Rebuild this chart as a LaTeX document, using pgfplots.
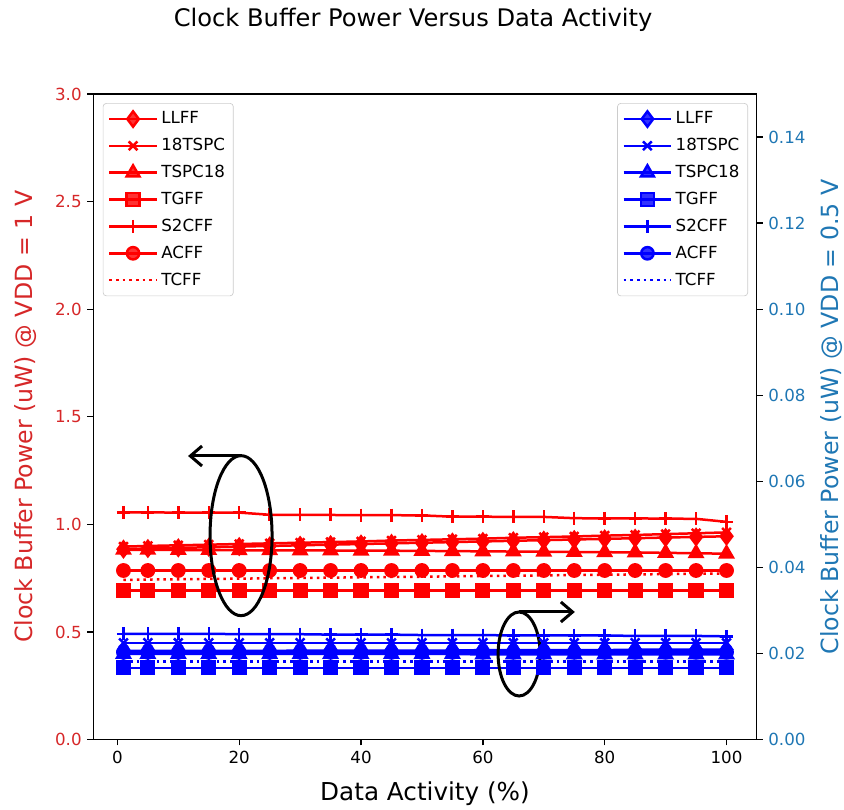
\documentclass[border=0pt]{standalone}
\usepackage{fontspec}
\setmainfont{DejaVu Sans}
\usepackage{pgfplots}
\pgfplotsset{compat=1.18}
\usetikzlibrary{arrows.meta}
\definecolor{tabred}{HTML}{D62728}
\definecolor{tabblue}{HTML}{1F77B4}
\definecolor{pr}{rgb}{1,0,0}
\definecolor{pb}{rgb}{0,0,1}

\pgfplotsset{
  common/.style={
    scale only axis, width=398pt, height=387.4pt,
    at={(0,0)}, anchor=south west,
    xmin=-3.95, xmax=104.95,
    tick align=outside, major tick length=3.5pt,
    tick style={black, line width=0.8pt},
    axis line style={line width=0.8pt},
    /pgf/number format/assume math mode=true,
    ticklabel style={font=\fontsize{10}{12}\selectfont},
    label style={font=\fontsize{14.2}{17}\selectfont},
    every axis plot/.append style={line width=1.5pt},
    legend style={font=\fontsize{10}{12}\selectfont, draw=black!20, rounded corners=2pt,
      fill=white, fill opacity=0.8, text opacity=1, inner sep=3pt, row sep=3.2pt},
    legend cell align=left,
    legend image code/.code={\draw[mark repeat=2,mark phase=2] plot coordinates {(0cm,0cm) (0.5cm,0cm) (1.0cm,0cm)};},
  },
  sD/.style={mark=diamond*, mark size=4.6pt},
  sX/.style={mark=x, mark size=3.7pt},
  sT/.style={mark=triangle*, mark size=4.4pt},
  sS/.style={mark=square*, mark size=3.8pt},
  sP/.style={mark=+, mark size=3.9pt},
  sO/.style={mark=*, mark size=3.7pt},
  sDot/.style={no marks, dash pattern=on 1.5pt off 2.5pt},
}

\begin{document}
\begin{tikzpicture}
\useasboundingbox (-56pt,-42.2pt) rectangle (450.4pt,443.8pt);
\begin{axis}[common,
  ymin=0, ymax=3, ytick={0,0.5,1,1.5,2,2.5,3}, ytick pos=left,
  xtick={0,20,40,60,80,100}, xtick pos=bottom,
  yticklabel style={text=tabred, /pgf/number format/.cd, fixed, fixed zerofill, precision=1},
  ylabel={Clock Buffer Power (uW) @ VDD = 1 V},
  ylabel style={text=tabred, at={(axis description cs:-0.1025,0.5)}, anchor=center},
  xlabel={Data Activity (\%)},
  xlabel style={at={(axis description cs:0.5,-0.084)}, anchor=center, font=\fontsize{14.8}{17}\selectfont},
  every axis title shift=0pt,
  title={Clock Buffer Power Versus Data Activity},
  title style={at={(axis description cs:0.482,1.1146)}, anchor=center, font=\fontsize{14.5}{17}\selectfont},
  legend style={at={(axis description cs:0.0142,0.986)}, anchor=north west},
]
\addplot[pr, sD] coordinates {(1,0.885)(5,0.888)(10,0.891)(15,0.894)(20,0.897)(25,0.900)(30,0.903)(35,0.906)(40,0.909)(45,0.912)(50,0.915)(55,0.918)(60,0.921)(65,0.924)(70,0.927)(75,0.930)(80,0.933)(85,0.936)(90,0.939)(95,0.942)(100,0.945)};
\addlegendentry{LLFF}
\addplot[pr, sX] coordinates {(1,0.897)(5,0.900)(10,0.903)(15,0.906)(20,0.909)(25,0.912)(30,0.915)(35,0.918)(40,0.921)(45,0.925)(50,0.928)(55,0.931)(60,0.934)(65,0.938)(70,0.941)(75,0.944)(80,0.948)(85,0.951)(90,0.955)(95,0.959)(100,0.963)};
\addlegendentry{18TSPC}
\addplot[pr, sT] coordinates {(1,0.882)(5,0.882)(10,0.881)(15,0.881)(20,0.880)(25,0.880)(30,0.879)(35,0.879)(40,0.878)(45,0.878)(50,0.877)(55,0.876)(60,0.875)(65,0.874)(70,0.873)(75,0.872)(80,0.871)(85,0.870)(90,0.868)(95,0.866)(100,0.864)};
\addlegendentry{TSPC18}
\addplot[pr, sS] coordinates {(1,0.692)(5,0.692)(10,0.692)(15,0.692)(20,0.692)(25,0.692)(30,0.692)(35,0.692)(40,0.692)(45,0.692)(50,0.692)(55,0.692)(60,0.692)(65,0.692)(70,0.692)(75,0.692)(80,0.692)(85,0.692)(90,0.692)(95,0.692)(100,0.692)};
\addlegendentry{TGFF}
\addplot[pr, sP] coordinates {(1,1.056)(5,1.056)(10,1.055)(15,1.055)(20,1.055)(25,1.045)(30,1.044)(35,1.044)(40,1.043)(45,1.043)(50,1.042)(55,1.036)(60,1.036)(65,1.035)(70,1.035)(75,1.029)(80,1.028)(85,1.028)(90,1.027)(95,1.026)(100,1.012)};
\addlegendentry{S2CFF}
\addplot[pr, sO] coordinates {(1,0.786)(5,0.786)(10,0.786)(15,0.786)(20,0.786)(25,0.786)(30,0.786)(35,0.786)(40,0.786)(45,0.786)(50,0.786)(55,0.786)(60,0.786)(65,0.786)(70,0.786)(75,0.786)(80,0.786)(85,0.786)(90,0.786)(95,0.786)(100,0.786)};
\addlegendentry{ACFF}
\addplot[pr, sDot] coordinates {(1,0.742)(5,0.744)(10,0.745)(15,0.747)(20,0.748)(25,0.750)(30,0.751)(35,0.753)(40,0.754)(45,0.756)(50,0.757)(55,0.759)(60,0.760)(65,0.762)(70,0.763)(75,0.765)(80,0.766)(85,0.768)(90,0.769)(95,0.771)(100,0.772)};
\addlegendentry{TCFF}
\end{axis}

\begin{axis}[common,
  ymin=0, ymax=0.15, ytick={0,0.02,0.04,0.06,0.08,0.1,0.12,0.14},
  axis y line*=right, axis x line=none,
  yticklabel style={text=tabblue, /pgf/number format/.cd, fixed, fixed zerofill, precision=2},
  ylabel={Clock Buffer Power (uW) @ VDD = 0.5 V},
  ylabel style={text=tabblue, at={(axis description cs:1.113,0.5)}, anchor=center, rotate=0},
  legend style={at={(axis description cs:0.987,0.986)}, anchor=north east},
]
\addplot[pb, sD] coordinates {(1,0.0206)(5,0.0206)(10,0.0206)(15,0.0206)(20,0.0206)(25,0.0206)(30,0.0207)(35,0.0207)(40,0.0207)(45,0.0207)(50,0.0207)(55,0.0207)(60,0.0208)(65,0.0208)(70,0.0208)(75,0.0208)(80,0.0208)(85,0.0209)(90,0.0209)(95,0.0209)(100,0.0209)};
\addlegendentry{LLFF}
\addplot[pb, sX] coordinates {(1,0.0225)(5,0.0225)(10,0.0225)(15,0.0225)(20,0.0225)(25,0.0225)(30,0.0225)(35,0.0225)(40,0.0225)(45,0.0225)(50,0.0225)(55,0.0225)(60,0.0225)(65,0.0225)(70,0.0225)(75,0.0225)(80,0.0225)(85,0.0225)(90,0.0225)(95,0.0225)(100,0.0225)};
\addlegendentry{18TSPC}
\addplot[pb, sT] coordinates {(1,0.0199)(5,0.0199)(10,0.0199)(15,0.0199)(20,0.0199)(25,0.0199)(30,0.0199)(35,0.0199)(40,0.0199)(45,0.0199)(50,0.0199)(55,0.0199)(60,0.0198)(65,0.0198)(70,0.0198)(75,0.0198)(80,0.0198)(85,0.0198)(90,0.0198)(95,0.0198)(100,0.0198)};
\addlegendentry{TSPC18}
\addplot[pb, sS] coordinates {(1,0.0167)(5,0.0167)(10,0.0167)(15,0.0167)(20,0.0167)(25,0.0167)(30,0.0167)(35,0.0167)(40,0.0167)(45,0.0167)(50,0.0167)(55,0.0167)(60,0.0167)(65,0.0167)(70,0.0167)(75,0.0167)(80,0.0167)(85,0.0167)(90,0.0167)(95,0.0167)(100,0.0167)};
\addlegendentry{TGFF}
\addplot[pb, sP] coordinates {(1,0.0246)(5,0.0246)(10,0.0246)(15,0.0246)(20,0.0245)(25,0.0245)(30,0.0245)(35,0.0244)(40,0.0244)(45,0.0244)(50,0.0243)(55,0.0243)(60,0.0243)(65,0.0242)(70,0.0242)(75,0.0242)(80,0.0242)(85,0.0241)(90,0.0241)(95,0.0241)(100,0.0240)};
\addlegendentry{S2CFF}
\addplot[pb, sO] coordinates {(1,0.0203)(5,0.0203)(10,0.0203)(15,0.0203)(20,0.0203)(25,0.0203)(30,0.0203)(35,0.0203)(40,0.0203)(45,0.0203)(50,0.0203)(55,0.0203)(60,0.0203)(65,0.0203)(70,0.0203)(75,0.0203)(80,0.0203)(85,0.0203)(90,0.0203)(95,0.0203)(100,0.0203)};
\addlegendentry{ACFF}
\addplot[pb, sDot] coordinates {(1,0.0182)(5,0.0182)(10,0.0182)(15,0.0182)(20,0.0182)(25,0.0182)(30,0.0182)(35,0.0182)(40,0.0182)(45,0.0182)(50,0.0182)(55,0.0182)(60,0.0182)(65,0.0182)(70,0.0182)(75,0.0182)(80,0.0182)(85,0.0182)(90,0.0182)(95,0.0182)(100,0.0182)};
\addlegendentry{TCFF}
\draw[black, line width=1.8pt] (axis cs:20.3,0.04739) ellipse [x radius=18.6pt, y radius=48pt];
\draw[black, line width=1.8pt, -{Straight Barb[length=7pt,width=12pt]}] (axis cs:20.3,0.0659) -- (axis cs:11.6,0.0659);
\draw[black, line width=1.8pt] (axis cs:65.95,0.0199) ellipse [x radius=12.6pt, y radius=25.2pt];
\draw[black, line width=1.8pt, -{Straight Barb[length=7pt,width=12pt]}] (axis cs:65.95,0.02966) -- (axis cs:75.1,0.02966);
\end{axis}
\end{tikzpicture}
\end{document}
